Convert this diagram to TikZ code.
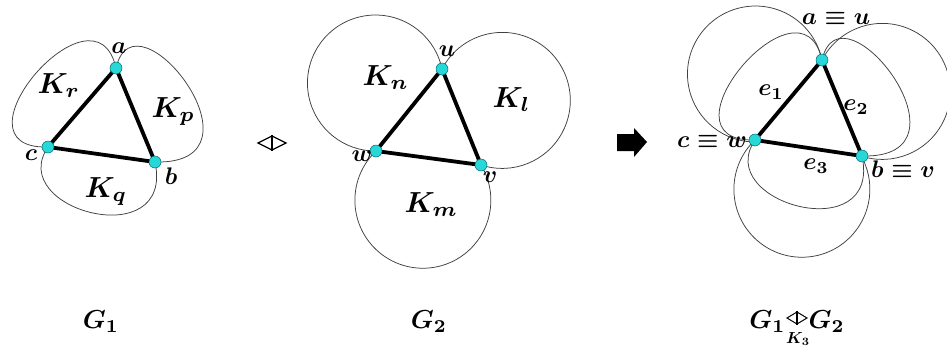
\documentclass[tikz,border=0pt]{standalone}
\definecolor{vfill}{RGB}{40,215,215}
\definecolor{vdraw}{RGB}{0,105,115}
\begin{document}
\begin{tikzpicture}[x=1pt,y=1pt,
  lobe/.style={line width=0.75pt, draw=black!75},
  edge/.style={line width=3.8pt, line cap=round, line join=round},
  vdot/.style={circle, fill=vfill, draw=vdraw, line width=0.5pt, inner sep=0pt, minimum size=12pt},
  vlab/.style={font=\boldmath, scale=2.4, inner sep=0pt},
  klab/.style={font=\boldmath, scale=2.9, anchor=base west, inner sep=0pt},
  glab/.style={font=\boldmath, scale=2.6, inner sep=0pt},
  opsym/.style={line width=1.2pt, line join=miter},
  opbar/.style={line width=2.6pt}]
\useasboundingbox (0,0) rectangle (947,-354);
\fill[white] (0,0) rectangle (947,-354);

% ---------------- G1 ----------------
\coordinate (a) at (116,-68);
\coordinate (b) at (155,-162);
\coordinate (c) at (48,-147);
\draw[lobe] (c) .. controls +(-103,-3) and +(-21,93) .. (a);
\draw[lobe] (a) .. controls +(19,83) and +(120,-3) .. (b);
\draw[lobe] (c) .. controls +(-43,-63) and +(20,-93) .. (b);
\draw[edge] (a) -- (b) -- (c) -- cycle;
\node[vdot] (na) at (a) {};
\node[vdot] (nb) at (b) {};
\node[vdot] (nc) at (c) {};
\node[vlab] (la) at (119,-48) {$a$};
\node[vlab] (lb) at (171,-176) {$b$};
\node[vlab] (lc) at (31,-155) {$c$};
\node[klab] (kr) at (37,-93) {$K_r$};
\node[klab] (kp) at (151,-117) {$K_p$};
\node[klab] (kq) at (84,-197) {$K_q$};

% operator symbol
\draw[opsym] (258,-143) -- (272,-136) -- (286,-143) -- (272,-150) -- cycle;
\draw[opbar] (272,-135) -- (272,-151);

% ---------------- G2 ----------------
\coordinate (u) at (442,-69);
\coordinate (v) at (481,-165);
\coordinate (w) at (376,-151);
\draw[lobe] (u) arc[start angle=11.9, end angle=270.5, radius=68];
\draw[lobe] (w) arc[start angle=133.6, end angle=391.2, radius=68];
\draw[lobe] (u) arc[start angle=152.5, end angle=-108.3, radius=68];
\draw[edge] (u) -- (v) -- (w) -- cycle;
\node[vdot] (nu) at (u) {};
\node[vdot] (nv) at (v) {};
\node[vdot] (nw) at (w) {};
\node[vlab] (lu) at (447,-51) {$u$};
\node[vlab] (lv) at (490,-177) {$v$};
\node[vlab] (lw) at (362,-156) {$w$};
\node[klab] (kn) at (362,-85) {$K_n$};
\node[klab] (kl) at (492,-107) {$K_l$};
\node[klab] (km) at (404,-212) {$K_m$};

% arrow
\fill (617,-134) -- (634,-134) -- (634,-128) -- (647,-142) -- (634,-157) -- (634,-151) -- (617,-151) -- cycle;

% ---------------- G1 o G2 ----------------
\coordinate (a2) at (822,-60);
\coordinate (b2) at (862,-156);
\coordinate (c2) at (755,-140);
\draw[lobe] (a2) arc[start angle=11.9, end angle=270.5, radius=68];
\draw[lobe] (c2) arc[start angle=133.6, end angle=391.2, radius=68];
\draw[lobe] (a2) arc[start angle=152.5, end angle=-108.3, radius=68];
\draw[lobe] (c2) .. controls +(-103,-3) and +(-21,93) .. (a2);
\draw[lobe] (a2) .. controls +(19,83) and +(120,-3) .. (b2);
\draw[lobe] (c2) .. controls +(-43,-63) and +(20,-93) .. (b2);
\draw[edge] (a2) -- (b2) -- (c2) -- cycle;
\node[vdot] (na2) at (a2) {};
\node[vdot] (nb2) at (b2) {};
\node[vdot] (nc2) at (c2) {};
\node[vlab] (lau) at (836,-18) {$a\equiv u$};
\node[vlab] (lcw) at (712,-141) {$c\equiv w$};
\node[vlab] (lbv) at (903,-169) {$b\equiv v$};
\node[vlab] (le1) at (771,-92) {$e_1$};
\node[vlab] (le2) at (856,-107) {$e_2$};
\node[vlab] (le3) at (816,-166) {$e_3$};

% ---------------- bottom labels ----------------
\node[glab] (g1) at (101,-322) {$G_1$};
\node[glab] (g2) at (429,-322) {$G_2$};
\node[glab, anchor=east] (g1b) at (786,-322) {$G_1$};
\draw[line width=1pt] (787,-318) -- (797,-312) -- (807,-318) -- (797,-324) -- cycle;
\draw[line width=2.2pt] (797,-311) -- (797,-325);
\node[font=\boldmath, scale=1.6, inner sep=0pt] (k3) at (798,-339) {$K_3$};
\node[glab, anchor=west] (g2b) at (808,-322) {$G_2$};
\end{tikzpicture}
\end{document}
